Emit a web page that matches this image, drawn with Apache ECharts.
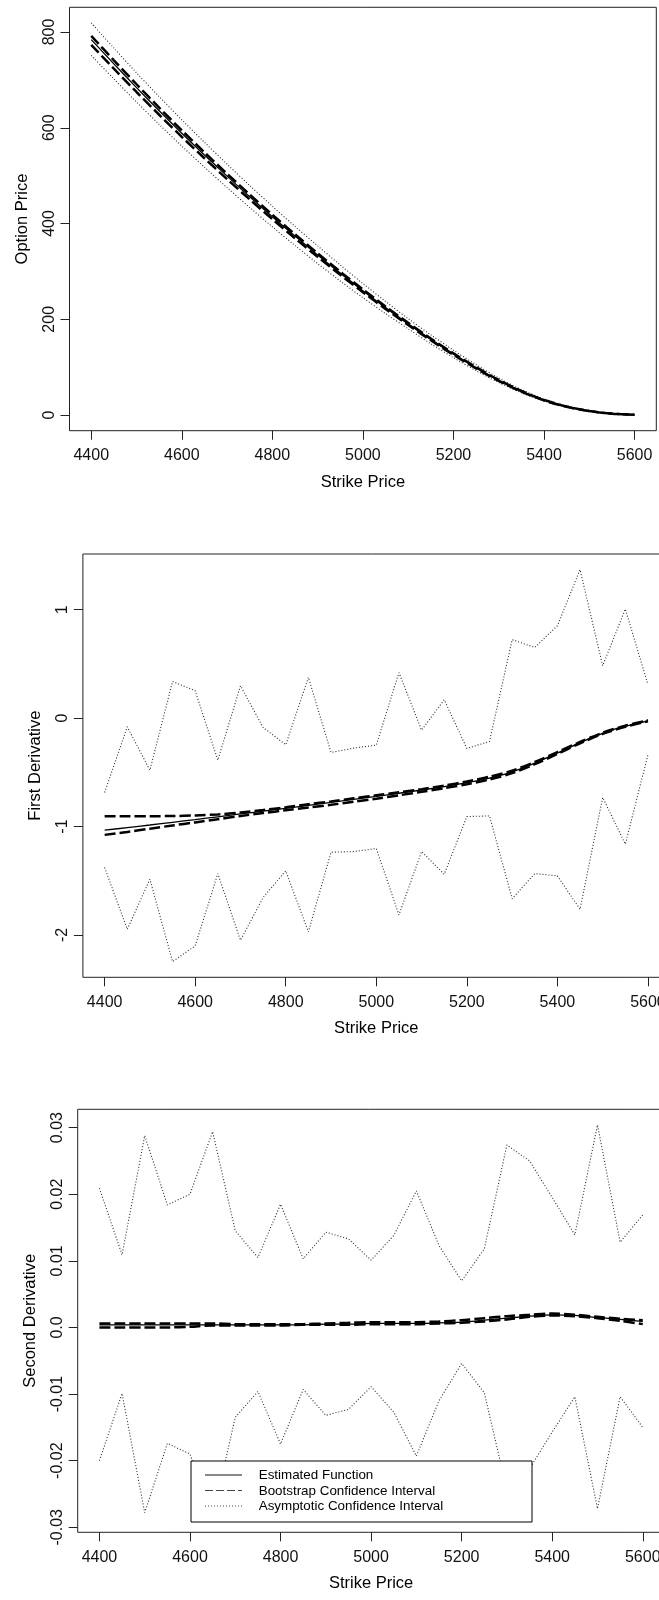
<!DOCTYPE html>
<html>
<head>
<meta charset="utf-8">
<script src="https://cdn.jsdelivr.net/npm/echarts@6/dist/echarts.min.js"></script>
<style>
html,body{margin:0;padding:0;background:#fff;}
#chart{width:659px;height:1600px;}
</style>
</head>
<body>
<div id="chart"></div>
<script>
// ---- data ----
const strikes = [4400,4450,4500,4550,4600,4650,4700,4750,4800,4850,4900,4950,5000,5050,5100,5150,5200,5250,5300,5350,5400,5450,5500,5550,5600];
const xTicks = [4400,4600,4800,5000,5200,5400,5600];

// Panel 1: option price
const priceEst    = [784.1,733.4,683.9,635.6,588.7,543.3,499.0,455.9,414.2,373.7,334.4,296.4,259.7,224.3,190.4,158.0,127.4,98.6,72.4,49.6,31.2,17.5,8.4,3.0,0.5];
const priceBootUp = [792.1,740.9,690.9,642.1,594.7,548.8,504.0,460.5,418.4,377.5,337.8,299.4,262.4,226.7,192.5,159.8,128.9,99.8,73.3,50.2,31.6,17.8,8.6,3.1,0.55];
const priceBootLo = [773.1,723.4,674.7,627.2,581.1,536.4,492.8,450.3,409.2,369.2,330.4,292.9,256.6,221.6,188.1,156.1,125.8,97.3,71.4,48.9,30.7,17.2,8.2,2.9,0.45];
const priceAsymUp = [819.1,766.4,714.9,665.1,616.7,569.8,524.0,479.4,436.2,394.2,353.4,313.4,274.7,237.3,201.4,167.5,135.4,105.1,77.4,53.1,33.7,19.0,9.4,3.5,0.7];
const priceAsymLo = [751.1,701.9,653.9,607.1,561.7,517.8,475.0,433.4,393.2,354.2,316.4,279.9,245.2,211.8,179.9,149.0,119.9,92.6,67.9,46.4,29.0,16.1,7.5,2.5,0.3];
const priceTicks = [0,200,400,600,800];
const priceTickLabels = ['0','200','400','600','800'];

// Panel 2: first derivative
const d1Est    = [-1.034,-1.010,-0.986,-0.961,-0.936,-0.910,-0.884,-0.858,-0.832,-0.805,-0.778,-0.750,-0.722,-0.693,-0.663,-0.631,-0.596,-0.553,-0.496,-0.415,-0.322,-0.226,-0.140,-0.075,-0.025];
const d1BootUp = [-0.905,-0.905,-0.905,-0.903,-0.898,-0.888,-0.870,-0.848,-0.822,-0.795,-0.768,-0.740,-0.712,-0.684,-0.655,-0.622,-0.585,-0.540,-0.485,-0.405,-0.313,-0.220,-0.135,-0.070,-0.020];
const d1BootLo = [-1.077,-1.050,-1.020,-0.990,-0.962,-0.932,-0.903,-0.876,-0.850,-0.825,-0.800,-0.772,-0.743,-0.712,-0.680,-0.646,-0.610,-0.566,-0.508,-0.425,-0.330,-0.232,-0.145,-0.080,-0.030];
const d1AsymUp = [-0.686,-0.080,-0.480,0.338,0.252,-0.388,0.298,-0.086,-0.246,0.375,-0.317,-0.277,-0.249,0.420,-0.111,0.169,-0.280,-0.215,0.723,0.652,0.852,1.369,0.483,1.006,0.308];
const d1AsymLo = [-1.378,-1.948,-1.486,-2.246,-2.100,-1.434,-2.049,-1.655,-1.409,-1.972,-1.237,-1.231,-1.203,-1.815,-1.231,-1.440,-0.908,-0.902,-1.665,-1.434,-1.455,-1.763,-0.732,-1.163,-0.338];
const d1Ticks = [-2,-1,0,1];
const d1TickLabels = ['-2','-1','0','1'];

// Panel 3: second derivative
const d2Est    = [0.0004,0.0004,0.0004,0.0004,0.0004,0.0004,0.0004,0.0004,0.0004,0.0004,0.0005,0.0005,0.0006,0.0006,0.0006,0.0007,0.0008,0.0011,0.0014,0.0017,0.0019,0.0018,0.0015,0.0012,0.0009];
const d2BootUp = [0.0006,0.0006,0.0006,0.0006,0.0006,0.0006,0.0005,0.0005,0.0005,0.0005,0.0006,0.0007,0.0008,0.0008,0.0008,0.0009,0.0011,0.0014,0.0017,0.0019,0.0021,0.0019,0.0016,0.0013,0.0011];
const d2BootLo = [0.0000,0.0000,0.0000,0.0000,0.0001,0.0003,0.0003,0.0003,0.0003,0.0004,0.0004,0.0004,0.0005,0.0005,0.0005,0.0006,0.0007,0.0009,0.0012,0.0016,0.0018,0.0017,0.0014,0.0010,0.0005];
const d2AsymUp = [0.0209,0.0109,0.0288,0.0184,0.0200,0.0294,0.0145,0.0105,0.0185,0.0103,0.0143,0.0133,0.0101,0.0138,0.0205,0.0123,0.0070,0.0118,0.0274,0.0250,0.0195,0.0139,0.0304,0.0128,0.0169];
const d2AsymLo = [-0.0200,-0.0099,-0.0278,-0.0174,-0.0190,-0.0284,-0.0135,-0.0096,-0.0175,-0.0093,-0.0132,-0.0123,-0.0089,-0.0127,-0.0193,-0.0110,-0.0054,-0.0098,-0.0244,-0.0212,-0.0157,-0.0104,-0.0272,-0.0104,-0.0150];
const d2Ticks = [-0.03,-0.02,-0.01,0,0.01,0.02,0.03];
const d2TickLabels = ['-0.03','-0.02','-0.01','0.0','0.01','0.02','0.03'];

const legendNames = ['Estimated Function','Bootstrap Confidence Interval','Asymptotic Confidence Interval'];

// ---- chart ----
const FONT = 'Liberation Sans, Arial, Helvetica, sans-serif';
const chart = echarts.init(document.getElementById('chart'), null, {renderer:'canvas'});

const grids = [
  {left:69.5, top:7.3,    width:586.8, height:423.4},
  {left:82.9, top:554,    width:586.8, height:423.3},
  {left:77.7, top:1109.3, width:586.8, height:423}
];
const yRanges = [[-32.7, 851.6], [-2.3906, 1.5136], [-0.03075, 0.03275]];
const yNames = ['Option Price','First Derivative','Second Derivative'];
const yTicks = [priceTicks, d1Ticks, d2Ticks];
const yTickLabels = [priceTickLabels, d1TickLabels, d2TickLabels];

function pairs(ys){ return strikes.map((x,i)=>[x, ys[i]]); }

const styles = {
  est:  {color:'#000', width:1.3, type:'solid'},
  boot: {color:'#000', width:2.5, type:[11,4]},
  asym: {color:'#2a2a2a', width:1.1, type:[1,2]}
};

const panels = [
  [priceEst, priceBootUp, priceBootLo, priceAsymUp, priceAsymLo],
  [d1Est, d1BootUp, d1BootLo, d1AsymUp, d1AsymLo],
  [d2Est, d2BootUp, d2BootLo, d2AsymUp, d2AsymLo]
];

const series = [];
panels.forEach((p, gi) => {
  const kinds = ['asym','asym','boot','boot','est'];
  const arrs = [p[3], p[4], p[1], p[2], p[0]];
  arrs.forEach((arr, k) => {
    const kind = kinds[k];
    const st = styles[kind];
    series.push({
      type:'line',
      name: kind==='est'?legendNames[0]:(kind==='boot'?legendNames[1]:legendNames[2]),
      xAxisIndex: gi, yAxisIndex: gi,
      data: pairs(arr),
      symbol:'none',
      smooth: (kind==='asym' && gi>0) ? false : 0.3,
      lineStyle:{color:st.color, width:st.width, type:st.type},
      emphasis:{disabled:true},
      silent:true,
      animation:false
    });
  });
});

const xAxis = grids.map((g, gi) => ({
  type:'value', gridIndex: gi, min:4352, max:5648,
  name:'Strike Price', nameLocation:'middle', nameGap:43,
  nameTextStyle:{fontFamily:FONT, fontSize:16.5, color:'#000'},
  axisLine:{show:false, onZero:false},
  splitLine:{show:false},
  axisTick:{show:true, length:9, customValues:xTicks, lineStyle:{color:'#222', width:1}},
  axisLabel:{show:true, margin:17, customValues:xTicks, fontFamily:FONT, fontSize:16, color:'#111',
    formatter:(v)=>String(Math.round(v))}
}));

const yAxis = grids.map((g, gi) => ({
  type:'value', gridIndex: gi, min:yRanges[gi][0], max:yRanges[gi][1],
  name:yNames[gi], nameLocation:'middle', nameGap:39,
  nameTextStyle:{fontFamily:FONT, fontSize:16.5, color:'#000'},
  axisLine:{show:false, onZero:false},
  splitLine:{show:false},
  axisTick:{show:true, length:9, customValues:yTicks[gi], lineStyle:{color:'#222', width:1}},
  axisLabel:{show:true, margin:12, rotate:90, customValues:yTicks[gi], fontFamily:FONT, fontSize:16, color:'#111',
    formatter:(v)=>{
      const idx = yTicks[gi].findIndex(t=>Math.abs(t-v)<1e-9);
      return idx>=0 ? yTickLabels[gi][idx] : '';
    }}
}));

// legend (drawn as a boxed key, R style)
const LX = 191, LY = 1461, LW = 341, LH = 61;
const rowY = [1475, 1490.5, 1506];
const legendGraphics = [
  {type:'rect', shape:{x:LX, y:LY, width:LW, height:LH}, style:{fill:'#fff', stroke:'#000', lineWidth:1}, z:100, silent:true},
  {type:'line', shape:{x1:205, y1:rowY[0], x2:242, y2:rowY[0]}, style:{stroke:'#111', lineWidth:1}, z:101, silent:true},
  {type:'line', shape:{x1:205, y1:rowY[1], x2:242, y2:rowY[1]}, style:{stroke:'#444', lineWidth:1, lineDash:[8,3]}, z:101, silent:true},
  {type:'line', shape:{x1:205, y1:rowY[2], x2:242, y2:rowY[2]}, style:{stroke:'#444', lineWidth:1, lineDash:[1,2]}, z:101, silent:true}
];
legendNames.forEach((n, i) => {
  legendGraphics.push({type:'text', x:258.7, y:rowY[i]+0.5, z:101, silent:true,
    style:{text:n, fill:'#000', font:'13.4px ' + FONT, textAlign:'left', textVerticalAlign:'middle'}});
});

chart.setOption({
  animation:false,
  backgroundColor:'#fff',
  grid: grids.map(g => Object.assign({show:true, borderColor:'#222', borderWidth:1, backgroundColor:'transparent', containLabel:false, outerBoundsMode:'none'}, g)),
  xAxis, yAxis, series,
  graphic:{elements:legendGraphics}
});
</script>
</body>
</html>
